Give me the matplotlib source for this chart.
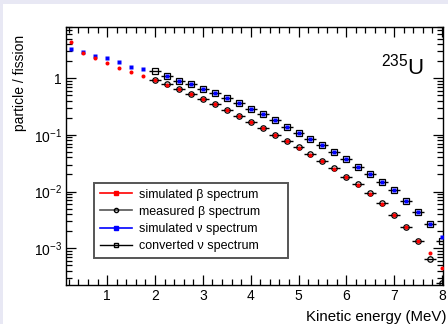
import numpy as np
import matplotlib
matplotlib.use("Agg")
import matplotlib.pyplot as plt
from matplotlib.lines import Line2D
from matplotlib.patches import Rectangle
from matplotlib.ticker import MultipleLocator, LogLocator, FixedLocator, FixedFormatter, NullFormatter

plt.rcParams['font.family'] = ['Liberation Sans', 'DejaVu Sans']
plt.rcParams['mathtext.fontset'] = 'custom'
plt.rcParams['mathtext.rm'] = 'Liberation Sans'
plt.rcParams['mathtext.it'] = 'Liberation Sans:italic'

# ---- data ----
energy_sim = [0.25, 0.5, 0.75, 1.0, 1.25, 1.5, 1.75, 2.0, 2.25, 2.5, 2.75, 3.0,
              3.25, 3.5, 3.75, 4.0, 4.25, 4.5, 4.75, 5.0, 5.25, 5.5, 5.75, 6.0,
              6.25, 6.5, 6.75, 7.0, 7.25, 7.5, 7.75, 8.0]
sim_beta = [4.4, 2.76, 2.28, 1.86, 1.52, 1.31, 1.1, 0.92, 0.77, 0.64, 0.53, 0.43,
            0.347, 0.275, 0.216, 0.169, 0.131, 0.1, 0.077, 0.059, 0.045, 0.034, 0.0253, 0.018,
            0.0132, 0.0091, 0.0061, 0.00385, 0.00236, 0.00133, 0.00081, 0.00045]
sim_nu = [3.3, 2.9, 2.5, 2.25, 1.92, 1.6, 1.44, np.nan, 1.1, 0.91, 0.78, 0.65,
          0.55, 0.44, 0.36, 0.29, 0.231, 0.183, 0.138, 0.109, 0.086, 0.065, 0.050, 0.0375,
          0.0274, 0.0206, 0.015, 0.0105, 0.0067, 0.0043, 0.00267, 0.00158]

energy_meas = [2.0, 2.25, 2.5, 2.75, 3.0, 3.25, 3.5, 3.75, 4.0, 4.25, 4.5, 4.75, 5.0,
               5.25, 5.5, 5.75, 6.0, 6.25, 6.5, 6.75, 7.0, 7.25, 7.5, 7.75, 8.0]
meas_beta = [0.95, 0.78, 0.645, 0.535, 0.435, 0.35, 0.278, 0.218, 0.17, 0.132, 0.101, 0.078, 0.06,
             0.0455, 0.0345, 0.0256, 0.0183, 0.0134, 0.0093, 0.0062, 0.0039, 0.0024, 0.00135, 0.00063, 0.000245]
conv_nu = [1.36, 1.1, 0.91, 0.78, 0.65, 0.55, 0.44, 0.36, 0.29, 0.231, 0.183, 0.138, 0.109,
           0.086, 0.065, 0.050, 0.0375, 0.0274, 0.0206, 0.015, 0.0105, 0.0067, 0.0043, 0.00267, 0.00133]
bin_half = 0.125

legend_labels = ['simulated β spectrum', 'measured β spectrum',
                 'simulated ν spectrum', 'converted ν spectrum']

# ---- figure ----
fig = plt.figure(figsize=(4.48, 3.24), dpi=100, facecolor='white')
fig.patches.append(Rectangle((0, 0), 3/448, 1, transform=fig.transFigure,
                             facecolor='#e8e8f4', edgecolor='none', zorder=-10))
fig.patches.append(Rectangle((0, 1 - 4/324), 1, 4/324, transform=fig.transFigure,
                             facecolor='#e8e8f4', edgecolor='none', zorder=-10))

ax = fig.add_axes([66/448, 1 - 285/324, (443 - 66)/448, (285 - 27)/324])
ax.set_yscale('log')
ax.set_xlim(0.14, 8.02)
ax.set_ylim(2.23e-4, 8.06)

ax.errorbar(energy_meas, conv_nu, xerr=bin_half, fmt='s', ms=4.0, mfc='none',
            mec='black', mew=0.9, ecolor='black', elinewidth=1.0, capsize=0, zorder=2)
ax.errorbar(energy_meas, meas_beta, xerr=bin_half, fmt='o', ms=3.9, mfc='none',
            mec='black', mew=0.9, ecolor='black', elinewidth=1.0, capsize=0, zorder=2)
ax.plot(energy_sim, sim_nu, 's', ms=3.0, color='#0000ff', mec='none', zorder=3)
ax.plot(energy_sim, sim_beta, 'o', ms=2.9, color='#ff0000', mec='none', zorder=3)

ax.xaxis.set_major_locator(FixedLocator([1, 2, 3, 4, 5, 6, 7, 8]))
ax.xaxis.set_minor_locator(MultipleLocator(0.2))
ytick_vals = [1e-3, 1e-2, 1e-1, 1]
ytick_labels = [r'$10^{-3}$', r'$10^{-2}$', r'$10^{-1}$', '1']
ax.yaxis.set_major_locator(FixedLocator(ytick_vals))
ax.yaxis.set_major_formatter(FixedFormatter(ytick_labels))
ax.yaxis.set_minor_locator(LogLocator(base=10, subs=np.arange(2, 10), numticks=20))
ax.yaxis.set_minor_formatter(NullFormatter())
ax.tick_params(which='both', direction='in', top=True, right=True, labelsize=10,
               width=0.9, colors='black')
ax.tick_params(which='major', length=7.5, pad=3)
ax.tick_params(which='minor', length=4)
for s in ax.spines.values():
    s.set_linewidth(1.0)

ax.set_xlabel('Kinetic energy (MeV)', fontsize=10.8, ha='right')
ax.xaxis.set_label_coords(1.01, -0.097)
ax.set_ylabel('particle / fission', fontsize=10, loc='top')
ax.yaxis.set_label_coords(-0.104, 0.97)

ax.text(0.835, 0.815, r'$^{235}$U', transform=ax.transAxes, fontsize=16,
        ha='left', va='baseline')

handles = [
    Line2D([], [], color='#ff0000', lw=1.2, marker='s', ms=2.5, mec='#ff0000'),
    Line2D([], [], color='#555555', lw=1.2, marker='o', ms=3, mfc='none', mec='black'),
    Line2D([], [], color='#0000ff', lw=1.2, marker='s', ms=3.2, mec='#0000ff'),
    Line2D([], [], color='black', lw=1.0, marker='s', ms=3, mfc='none', mec='black'),
]
x0, y1 = 94/448, 1 - 183/324
w, h = (288 - 94)/448, (260 - 183)/324
leg = ax.legend(handles, legend_labels, loc='upper left', mode='expand',
                bbox_to_anchor=(x0, y1 - h, w, h), bbox_transform=fig.transFigure,
                fontsize=9.0, frameon=True, fancybox=False, framealpha=1,
                edgecolor='#555555', handlelength=2.6, handletextpad=0.55,
                labelspacing=0.42, borderpad=0.45, borderaxespad=0)
leg.get_frame().set_linewidth(1.4)

fig.savefig('out.png', dpi=100, facecolor=fig.get_facecolor())
